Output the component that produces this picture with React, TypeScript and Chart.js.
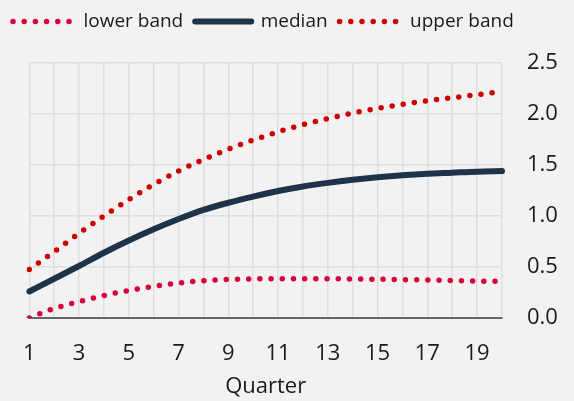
import { useEffect, useRef } from "react";
import { Chart, registerables } from "chart.js";

Chart.register(...registerables);

const quarters = ["1","2","3","4","5","6","7","8","9","10","11","12","13","14","15","16","17","18","19","20"];
const lowerBand = [0.0, 0.093, 0.16, 0.22, 0.27, 0.31, 0.343, 0.365, 0.378, 0.383, 0.385, 0.386, 0.385, 0.383, 0.38, 0.376, 0.372, 0.367, 0.362, 0.358];
const median = [0.26, 0.385, 0.51, 0.64, 0.76, 0.87, 0.97, 1.06, 1.13, 1.19, 1.245, 1.29, 1.325, 1.355, 1.38, 1.4, 1.415, 1.425, 1.435, 1.44];
const upperBand = [0.475, 0.65, 0.83, 1.0, 1.16, 1.31, 1.44, 1.555, 1.655, 1.745, 1.825, 1.895, 1.955, 2.01, 2.055, 2.095, 2.13, 2.16, 2.19, 2.22];
const yMin = 0;
const yMax = 2.5;
const yStep = 0.5;
const xTitle = "Quarter";

const FONT = "'Open Sans', 'Noto Sans', sans-serif";
const TEXT = "#1a1a1a";

export default function App() {
  const ref = useRef<HTMLCanvasElement>(null);

  useEffect(() => {
    document.body.style.margin = "0";
    document.body.style.background = "#f2f2f2";
    if (!ref.current) return;

    const legendSpacer = {
      id: "legendSpacer",
      beforeInit(chart: any) {
        const leg = chart.legend;
        if (!leg) return;
        const orig = leg.fit;
        leg.fit = function () {
          orig.call(this);
          this.height += 22;
        };
      },
    };

    const chart = new Chart(ref.current, {
      type: "line",
      data: {
        labels: quarters,
        datasets: [
          {
            label: "lower band",
            data: lowerBand,
            borderColor: "#d8003a",
            backgroundColor: "transparent",
            borderWidth: 5.5,
            borderDash: [0, 11.2],
            borderCapStyle: "round",
            pointRadius: 0,
            cubicInterpolationMode: "monotone",
          },
          {
            label: "median",
            data: median,
            borderColor: "#1e3347",
            backgroundColor: "transparent",
            borderWidth: 6,
            borderCapStyle: "round",
            borderJoinStyle: "round",
            pointRadius: 0,
            cubicInterpolationMode: "monotone",
          },
          {
            label: "upper band",
            data: upperBand,
            borderColor: "#cc0000",
            backgroundColor: "transparent",
            borderWidth: 5.5,
            borderDash: [0, 11.2],
            borderCapStyle: "round",
            pointRadius: 0,
            cubicInterpolationMode: "monotone",
          },
        ],
      },
      options: {
        animation: false,
        responsive: true,
        maintainAspectRatio: false,
        layout: { padding: { left: 1, right: 0, top: 0, bottom: 0 } },
        plugins: {
          legend: {
            position: "top",
            align: "start",
            labels: {
              boxWidth: 56,
              boxHeight: 0,
              padding: 12,
              color: TEXT,
              font: { family: FONT, size: 19 },
              generateLabels: (c: any) => {
                const items = Chart.defaults.plugins.legend.labels.generateLabels(c);
                return items.map((it: any) =>
                  it.text === "median" ? it : { ...it, text: " " + it.text }
                );
              },
            },
          },
          tooltip: { enabled: false },
        },
        scales: {
          x: {
            type: "category",
            grid: { color: "#dedede", lineWidth: 1.5, drawTicks: false },
            border: { display: true, color: "#666666", width: 2 },
            ticks: {
              autoSkip: false,
              maxRotation: 0,
              padding: 23,
              color: TEXT,
              font: { family: FONT, size: 22 },
              callback: (_v: any, i: number) => (i % 2 === 0 ? quarters[i] : ""),
            },
            title: {
              display: true,
              text: xTitle,
              color: TEXT,
              font: { family: FONT, size: 22 },
              padding: { top: 0, bottom: 1 },
            },
            afterFit: (s: any) => {
              s.height = 83;
            },
          },
          y: {
            position: "right",
            min: yMin,
            max: yMax,
            grid: { color: "#dedede", lineWidth: 1.5, drawTicks: false },
            border: { display: false },
            ticks: {
              stepSize: yStep,
              padding: 25,
              color: TEXT,
              font: { family: FONT, size: 22 },
              callback: (v: any) => Number(v).toFixed(1),
            },
            afterFit: (s: any) => {
              s.width = 72;
            },
          },
          yLeft: {
            position: "left",
            display: true,
            grid: { display: false },
            border: { display: false },
            ticks: { display: false },
            afterFit: (s: any) => {
              s.width = 26;
            },
          },
        },
      },
      plugins: [legendSpacer],
    } as any);

    return () => chart.destroy();
  }, []);

  return (
    <div style={{ width: 574, height: 401, position: "relative" }}>
      <canvas ref={ref} />
    </div>
  );
}
